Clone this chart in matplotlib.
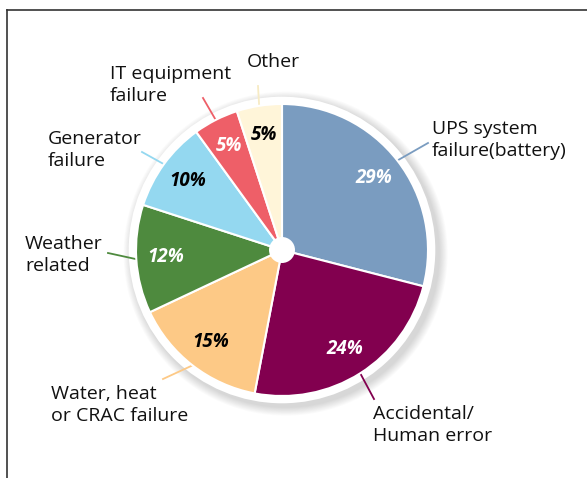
import numpy as np
import matplotlib
matplotlib.use("Agg")
import matplotlib.pyplot as plt
from matplotlib.patches import Circle
from matplotlib.lines import Line2D

plt.rcParams['font.family'] = ['Open Sans', 'DejaVu Sans']

# data
categories = ["UPS system\nfailure(battery)", "Accidental/\nHuman error",
              "Water, heat\nor CRAC failure", "Weather\nrelated",
              "Generator\nfailure", "IT equipment\nfailure", "Other"]
shares = [29, 24, 15, 12, 10, 5, 5]
colors = ["#7a9cc0", "#82004f", "#fdc986", "#4e8a3e", "#94d8f0", "#ee5f68", "#fff5d9"]
pct_colors = ["white", "white", "black", "white", "black", "white", "black"]
line_colors = ["#7a9cc0", "#82004f", "#fdc986", "#4e8a3e", "#94d8f0", "#ee5f68", "#f7ebc4"]

# layout, in pixels of the 587x478 figure
W, H = 587, 478
CX, CY, R = 282, 250, 146
label_xy = [(432, 140), (373, 425), (51, 405), (25, 255), (48, 150), (110, 85), (247, 62)]
leader_end = [(428, 143), (374, 399), (163, 379), (108, 253), (142, 152), (203, 98), (258, 86)]


def px(p):
    return ((p[0] - CX) / R, (CY - p[1]) / R)


fig = plt.figure(figsize=(W / 100, H / 100), dpi=100)
ax = fig.add_axes([0, 0, 1, 1])

# soft shadow and white rim
for i in range(10):
    ax.add_patch(Circle((0.025, -0.025), 1.05 + 0.006 * (10 - i), color="#000000",
                        alpha=0.016, lw=0, zorder=1))
ax.add_patch(Circle((0, 0), 1.05, color="white", lw=0, zorder=2))

wedges, _, autotexts = ax.pie(shares, colors=colors, startangle=90, counterclock=False,
                              radius=1.0, autopct="%d%%", pctdistance=0.8,
                              wedgeprops=dict(edgecolor="white", linewidth=1.5, zorder=3),
                              textprops=dict(fontsize=13.5, fontweight="bold", style="italic"))
for t, c in zip(autotexts, pct_colors):
    t.set_color(c)
    t.set_zorder(5)
ax.add_patch(Circle((0, 0), 13 / R, color="white", lw=0, zorder=4))

for w, lab, lxy, end, lc in zip(wedges, categories, label_xy, leader_end, line_colors):
    th = np.deg2rad((w.theta1 + w.theta2) / 2)
    x0, y0 = np.cos(th) * 1.0, np.sin(th) * 1.0
    x1, y1 = px(end)
    ax.add_line(Line2D([x0, x1], [y0, y1], color=lc, lw=1.3, zorder=2.5))
    tx, ty = px(lxy)
    ax.text(tx, ty, lab, fontsize=14, ha="left", va="center", linespacing=1.35,
            color="#111111", zorder=6)

ax.set_aspect("auto")
ax.set_xlim(-CX / R, (W - CX) / R)
ax.set_ylim(-(H - CY) / R, CY / R)
ax.axis("off")

# frame lines at top and left
fig.add_artist(Line2D([7 / W, 1], [1 - 10 / H, 1 - 10 / H], color="#333333", lw=1.2))
fig.add_artist(Line2D([7 / W, 7 / W], [0, 1 - 10 / H], color="#333333", lw=1.2))

fig.savefig("out.png", dpi=100)
